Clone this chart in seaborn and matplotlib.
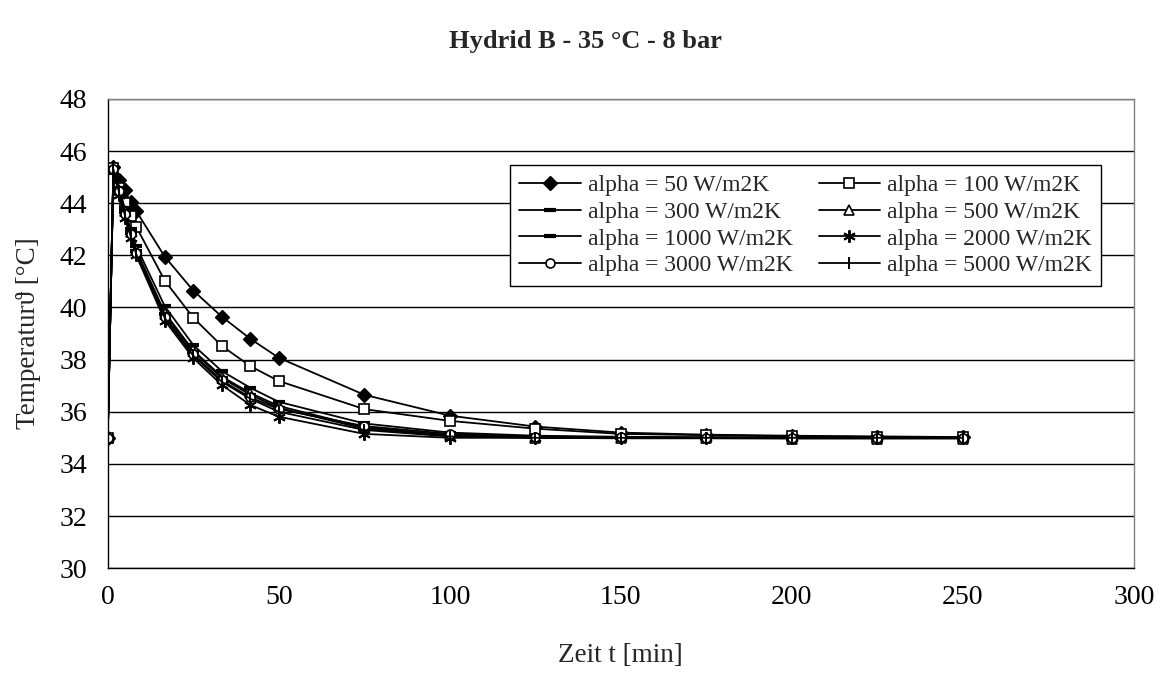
import matplotlib
matplotlib.use("Agg")
import matplotlib.pyplot as plt
import seaborn as sns
import pandas as pd

# Zeitpunkte in Minuten (100 s, dann 500 s, dann 1500 s Schritte)
zeit = [0, 1.67, 3.33, 5.0, 6.67, 8.33, 16.67, 25.0, 33.33, 41.67, 50.0,
        75.0, 100.0, 125.0, 150.0, 175.0, 200.0, 225.0, 250.0]

t_alpha_50 = [35.0, 45.4, 44.9, 44.5, 44.05, 43.7, 41.95, 40.65, 39.65, 38.8, 38.07,
              36.65, 35.85, 35.43, 35.2, 35.12, 35.08, 35.05, 35.03]
t_alpha_100 = [35.0, 45.35, 44.6, 44.0, 43.5, 43.1, 41.03, 39.61, 38.53, 37.75, 37.18,
               36.1, 35.65, 35.35, 35.15, 35.1, 35.06, 35.04, 35.03]
t_alpha_300 = [35.0, 45.35, 44.6, 43.8, 43.0, 42.35, 40.05, 38.56, 37.56, 36.92, 36.38,
               35.55, 35.2, 35.08, 35.04, 35.02, 35.01, 35.0, 35.0]
t_alpha_500 = [35.0, 45.3, 44.5, 43.7, 42.9, 42.2, 39.8, 38.35, 37.35, 36.72, 36.22,
               35.4, 35.1, 35.0, 34.98, 34.98, 34.97, 34.97, 34.97]
t_alpha_1000 = [35.0, 45.3, 44.5, 43.65, 42.85, 42.15, 39.75, 38.3, 37.3, 36.65, 36.15,
                35.35, 35.08, 35.02, 35.0, 35.0, 35.0, 35.0, 35.0]
t_alpha_2000 = [35.0, 45.25, 44.3, 43.45, 42.65, 42.0, 39.5, 38.06, 37.03, 36.26, 35.81,
                35.15, 35.0, 35.0, 35.0, 35.0, 35.0, 35.0, 35.0]
t_alpha_3000 = [35.0, 45.3, 44.45, 43.6, 42.8, 42.1, 39.65, 38.2, 37.2, 36.55, 36.1,
                35.45, 35.15, 35.05, 35.02, 35.01, 35.0, 35.0, 35.0]
t_alpha_5000 = [35.0, 45.3, 44.4, 43.55, 42.75, 42.05, 39.6, 38.15, 37.15, 36.5, 36.0,
                35.3, 35.05, 35.0, 35.0, 35.0, 35.0, 35.0, 35.0]

labels = ["alpha = 50 W/m2K", "alpha = 100 W/m2K", "alpha = 300 W/m2K",
          "alpha = 500 W/m2K", "alpha = 1000 W/m2K", "alpha = 2000 W/m2K",
          "alpha = 3000 W/m2K", "alpha = 5000 W/m2K"]
reihen = [t_alpha_50, t_alpha_100, t_alpha_300, t_alpha_500,
          t_alpha_1000, t_alpha_2000, t_alpha_3000, t_alpha_5000]

x_ticks = [0, 50, 100, 150, 200, 250, 300]
y_ticks = [30, 32, 34, 36, 38, 40, 42, 44, 46, 48]

# Markerstil je Reihe: (marker, facecolor, size, edge width)
stile = [
    ("D", "black", 7, 1.0),
    ("s", "white", 6.5, 1.2),
    ("_", "black", 9, 3.0),
    ("^", "white", 6.5, 1.2),
    ("_", "black", 9, 3.0),
    ((6, 2, 0), "black", 9, 1.4),
    ("o", "white", 6.5, 1.2),
    ("|", "black", 9, 1.4),
]

sns.set_style("white")
plt.rcParams["font.family"] = ["Liberation Serif", "DejaVu Serif"]

fig = plt.figure(figsize=(11.67, 6.92), dpi=100)
ax = fig.add_axes([0.0923, 0.179, 0.8794, 0.678])

for werte, lab, (mk, fc, ms, mew) in zip(reihen, labels, stile):
    df = pd.DataFrame({"t": zeit, "T": werte})
    sns.lineplot(data=df, x="t", y="T", ax=ax, color="black", linewidth=1.3,
                 marker=mk, markersize=ms, markerfacecolor=fc,
                 markeredgecolor="black", markeredgewidth=mew, label=lab,
                 sort=False, legend=False)

ax.set_xlim(0, 300)
ax.set_ylim(30, 48)
ax.set_xticks(x_ticks)
ax.set_yticks(y_ticks)
ax.yaxis.grid(True, color="black", linewidth=1.0)
ax.xaxis.grid(False)
ax.set_axisbelow(True)

for side in ["left", "bottom"]:
    ax.spines[side].set_color("black")
    ax.spines[side].set_linewidth(1.0)
for side in ["top", "right"]:
    ax.spines[side].set_color("#808080")
    ax.spines[side].set_linewidth(1.0)

ax.tick_params(axis="both", direction="out", length=7, width=1.0,
               labelsize=20, colors="black")
ax.tick_params(axis="x", pad=5)
ax.tick_params(axis="y", pad=8)

ax.set_xlabel("Zeit t [min]", fontsize=19.5, labelpad=24)
ax.set_ylabel("Temperaturϑ [°C]", fontsize=19.5, labelpad=13)
fig.text(0.502, 0.94, "Hydrid B - 35 °C - 8 bar", ha="center", va="center",
         fontsize=19, fontweight="bold")

# Legende zeilenweise: Reihen in Spalten umsortieren
handles, labs = ax.get_legend_handles_labels()
order = [0, 2, 4, 6, 1, 3, 5, 7]
leg = ax.legend([handles[i] for i in order], [labs[i] for i in order],
                ncol=2, loc="upper left", bbox_to_anchor=(0.392, 0.859),
                fontsize=17, frameon=True, fancybox=False, framealpha=1,
                edgecolor="black", borderpad=0.4, labelspacing=0.22,
                handlelength=2.6, handletextpad=0.3, columnspacing=1.1,
                borderaxespad=0)
leg.get_frame().set_linewidth(1.0)

fig.savefig("out.png", dpi=100, facecolor="white")
